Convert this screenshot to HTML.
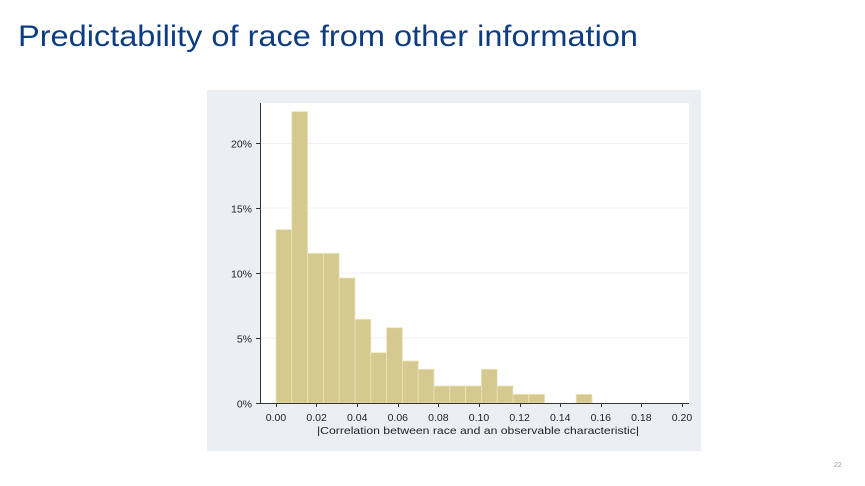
<!DOCTYPE html>
<html><head><style>
html,body{margin:0;padding:0;background:#fff;}
body{width:865px;height:486px;overflow:hidden;position:relative;font-family:"Liberation Sans",Arial,sans-serif;}
</style></head><body>
<svg width="865" height="486" viewBox="0 0 865 486" xmlns="http://www.w3.org/2000/svg" style="position:absolute;left:0;top:0">
<rect x="0" y="0" width="865" height="486" fill="#ffffff"/>
<text x="18" y="46" font-family="Liberation Sans, Arial, sans-serif" font-size="30" fill="#0d3d80" textLength="620" lengthAdjust="spacingAndGlyphs">Predictability of race from other information</text>
<rect x="207" y="90" width="494" height="361" fill="#ebeff4"/>
<rect x="261" y="103" width="428" height="300" fill="#ffffff"/>
<g stroke="#eef2f6" stroke-width="1">
<line x1="261" y1="143.5" x2="688" y2="143.5"/>
<line x1="261" y1="208" x2="688" y2="208"/>
<line x1="261" y1="273" x2="688" y2="273"/>
<line x1="261" y1="338" x2="688" y2="338"/>
</g>
<g fill="#d5c98f" stroke="#ece4bd" stroke-width="0.8">
<rect x="276" y="229.7" width="15.8" height="173.3"/>
<rect x="291.8" y="111.6" width="15.8" height="291.4"/>
<rect x="307.6" y="253.3" width="15.8" height="149.7"/>
<rect x="323.4" y="253.3" width="15.8" height="149.7"/>
<rect x="339.2" y="278" width="15.8" height="125"/>
<rect x="355" y="319.3" width="15.8" height="83.7"/>
<rect x="370.8" y="352.7" width="15.8" height="50.3"/>
<rect x="386.6" y="327.7" width="15.8" height="75.3"/>
<rect x="402.4" y="361" width="15.8" height="42"/>
<rect x="418.2" y="369.3" width="15.8" height="33.7"/>
<rect x="434" y="386" width="15.8" height="17"/>
<rect x="449.8" y="386" width="15.8" height="17"/>
<rect x="465.6" y="386" width="15.8" height="17"/>
<rect x="481.4" y="369.3" width="15.8" height="33.7"/>
<rect x="497.2" y="386" width="15.8" height="17"/>
<rect x="513" y="394.3" width="15.8" height="8.7"/>
<rect x="528.8" y="394.3" width="15.8" height="8.7"/>
<rect x="576.2" y="394.3" width="15.8" height="8.7"/>
</g>
<g stroke="#333" stroke-width="1">
<line x1="260.5" y1="103" x2="260.5" y2="403"/>
<line x1="260" y1="403.5" x2="689" y2="403.5"/>
<line x1="256" y1="143.5" x2="260" y2="143.5"/>
<line x1="256" y1="208.5" x2="260" y2="208.5"/>
<line x1="256" y1="273.5" x2="260" y2="273.5"/>
<line x1="256" y1="338.5" x2="260" y2="338.5"/>
<line x1="256" y1="403.5" x2="260" y2="403.5"/>
</g>
<g stroke="#333" stroke-width="1">
<line x1="276.5" y1="403" x2="276.5" y2="407"/>
<line x1="316.5" y1="403" x2="316.5" y2="407"/>
<line x1="357.5" y1="403" x2="357.5" y2="407"/>
<line x1="398.5" y1="403" x2="398.5" y2="407"/>
<line x1="438.5" y1="403" x2="438.5" y2="407"/>
<line x1="479.5" y1="403" x2="479.5" y2="407"/>
<line x1="520.5" y1="403" x2="520.5" y2="407"/>
<line x1="560.5" y1="403" x2="560.5" y2="407"/>
<line x1="601.5" y1="403" x2="601.5" y2="407"/>
<line x1="641.5" y1="403" x2="641.5" y2="407"/>
<line x1="682.5" y1="403" x2="682.5" y2="407"/>
</g>
<g font-family="Liberation Sans, Arial, sans-serif" font-size="10.5" fill="#222" text-anchor="end">
<text x="252" y="147.5">20%</text>
<text x="252" y="212.5">15%</text>
<text x="252" y="277.5">10%</text>
<text x="252" y="342.5">5%</text>
<text x="252" y="407.5">0%</text>
</g>
<g font-family="Liberation Sans, Arial, sans-serif" font-size="10.5" fill="#222" text-anchor="middle">
<text x="276" y="421">0.00</text>
<text x="316.6" y="421">0.02</text>
<text x="357.2" y="421">0.04</text>
<text x="397.8" y="421">0.06</text>
<text x="438.4" y="421">0.08</text>
<text x="479" y="421">0.10</text>
<text x="519.6" y="421">0.12</text>
<text x="560.2" y="421">0.14</text>
<text x="600.8" y="421">0.16</text>
<text x="641.4" y="421">0.18</text>
<text x="682" y="421">0.20</text>
<text x="478" y="434" textLength="322" lengthAdjust="spacingAndGlyphs">|Correlation between race and an observable characteristic|</text>
</g>
<text x="834" y="467" font-family="Liberation Sans, Arial, sans-serif" font-size="7" fill="#999">22</text>
</svg>
</body></html>
